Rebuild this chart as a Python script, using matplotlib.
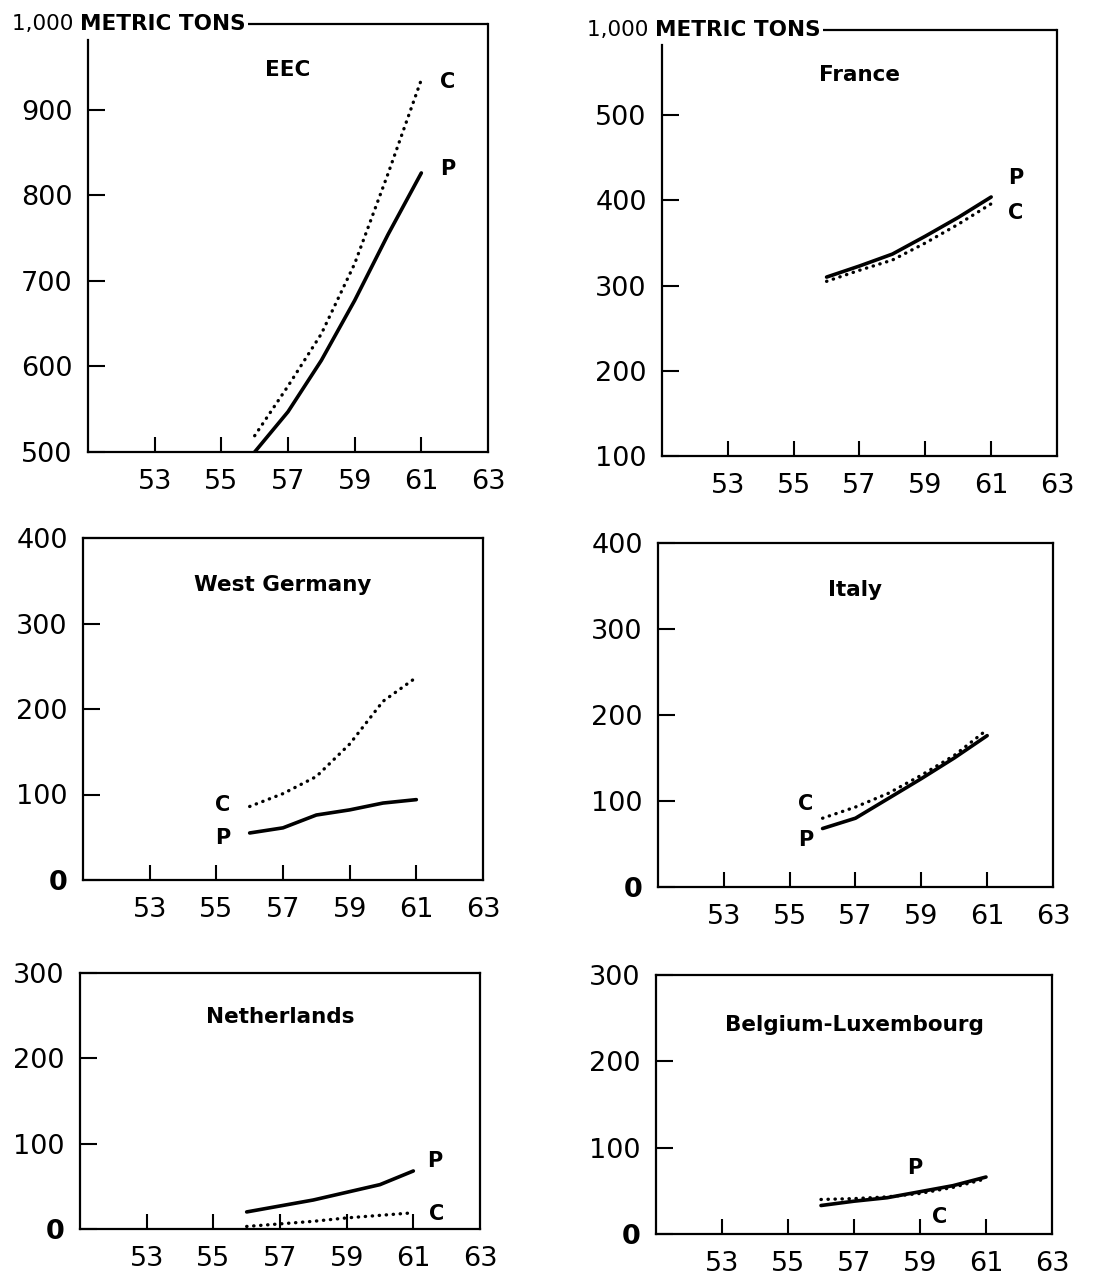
import matplotlib
matplotlib.use("Agg")
import matplotlib.pyplot as plt
from matplotlib.lines import Line2D

# ---------------- data ----------------
years = [56, 57, 58, 59, 60, 61]

eec_p = [500, 547, 607, 677, 754, 826]
eec_c = [519, 577, 638, 720, 825, 935]
france_p = [310, 323, 337, 358, 380, 404]
france_c = [305, 318, 330, 350, 372, 396]
wg_p = [55, 61, 76, 82, 90, 94]
wg_c = [86, 101, 121, 159, 209, 237]
italy_p = [68, 80, 103, 126, 150, 176]
italy_c = [80, 93, 109, 130, 153, 183]
nl_p = [20, 27, 34, 43, 52, 68]
nl_c = [3, 6, 9, 13, 16, 19]
bl_p = [33, 38, 42, 49, 56, 66]
bl_c = [40, 41, 43, 47, 54, 64]

titles = ["EEC", "France", "West Germany", "Italy", "Netherlands", "Belgium-Luxembourg"]
x_tick_labels = [53, 55, 57, 59, 61, 63]
x_tick_marks = [53, 55, 57, 59, 61]
unit_label_num = "1,000 "
unit_label_txt = "METRIC TONS"

panels = [
    dict(title=titles[0], p=eec_p, c=eec_c, ylim=(500, 1000), yticks=[500, 600, 700, 800, 900],
         rect=[88, 24, 488, 452], ty=0.893, top=True, spine_top=981,
         plab=(61.8, 831), clab=(61.8, 932)),
    dict(title=titles[1], p=france_p, c=france_c, ylim=(100, 600), yticks=[100, 200, 300, 400, 500],
         rect=[662, 30, 1057, 456], ty=0.894, top=True, spine_top=582,
         plab=(61.75, 426), clab=(61.75, 385)),
    dict(title=titles[2], p=wg_p, c=wg_c, ylim=(0, 400), yticks=[0, 100, 200, 300, 400],
         rect=[83, 538, 483, 880], ty=0.863, top=False,
         plab=(55.2, 49), clab=(55.2, 88)),
    dict(title=titles[3], p=italy_p, c=italy_c, ylim=(0, 400), yticks=[0, 100, 200, 300, 400],
         rect=[658, 543, 1053, 887], ty=0.863, top=False,
         plab=(55.5, 55), clab=(55.5, 96)),
    dict(title=titles[4], p=nl_p, c=nl_c, ylim=(0, 300), yticks=[0, 100, 200, 300],
         rect=[80, 973, 480, 1229], ty=0.828, top=False,
         plab=(61.65, 80), clab=(61.7, 18)),
    dict(title=titles[5], p=bl_p, c=bl_c, ylim=(0, 300), yticks=[0, 100, 200, 300],
         rect=[656, 975, 1052, 1234], ty=0.807, top=False,
         plab=(58.85, 76), clab=(59.6, 20)),
]

W, H = 1105, 1278
fig = plt.figure(figsize=(W / 100, H / 100), dpi=100)
plt.rcParams['font.family'] = ['DejaVu Sans']

headers = []
for pn in panels:
    l, t, r, b = pn['rect']
    ax = fig.add_axes([l / W, 1 - b / H, (r - l) / W, (b - t) / H])
    ax.set_xlim(51, 63)
    ax.set_ylim(*pn['ylim'])

    ax.plot(years, pn['p'], color='black', lw=2.6, solid_capstyle='round', solid_joinstyle='round')
    ax.plot(years, pn['c'], color='black', lw=2.4, linestyle=(0, (0.1, 2.0)), dash_capstyle='round')

    ax.text(0.5, pn['ty'], pn['title'], transform=ax.transAxes, ha='center', va='center',
            fontsize=15.5, fontweight='bold')
    ax.text(pn['plab'][0], pn['plab'][1], "P", ha='center', va='center', fontsize=15, fontweight='bold')
    ax.text(pn['clab'][0], pn['clab'][1], "C", ha='center', va='center', fontsize=15, fontweight='bold')

    # ticks
    ax.set_xticks(x_tick_marks)
    ax.set_xticklabels([])
    ax.tick_params(axis='x', direction='in', length=11, width=1.5, labelsize=19)
    for v in x_tick_labels:
        ax.annotate(str(v), xy=(v, 0), xycoords=('data', 'axes fraction'),
                    xytext=(0, -12), textcoords='offset points', ha='center', va='top', fontsize=19.5)

    yt = pn['yticks']
    ax.set_yticks(yt)
    ax.set_yticklabels([str(v) for v in yt])
    ax.tick_params(axis='y', direction='in', length=12, width=1.5, labelsize=19.5, pad=11)
    for lab in ax.get_yticklabels():
        if lab.get_text() == '0':
            lab.set_fontweight('bold')

    for s in ax.spines.values():
        s.set_linewidth(1.6)

    if pn['top']:
        ax.spines['top'].set_visible(False)
        ax.spines['left'].set_bounds(pn['ylim'][0], pn['spine_top'])
        t1 = ax.text(-0.19, 1.0, unit_label_num, transform=ax.transAxes, ha='left', va='center',
                     fontsize=15.5)
        t2 = ax.annotate(unit_label_txt, xy=(1, 0.5), xycoords=t1, ha='left', va='center',
                         fontsize=15.5, fontweight='bold')
        headers.append((ax, t2))

fig.canvas.draw()
renderer = fig.canvas.get_renderer()
for ax, t2 in headers:
    bb = t2.get_window_extent(renderer)
    x0 = ax.transAxes.inverted().transform((bb.x1 + 2, bb.y0))[0]
    ax.add_line(Line2D([x0, 1.0], [1.0, 1.0], transform=ax.transAxes, color='black',
                       lw=1.6, clip_on=False, solid_capstyle='butt'))

fig.savefig("out.png", dpi=100, facecolor='white')
